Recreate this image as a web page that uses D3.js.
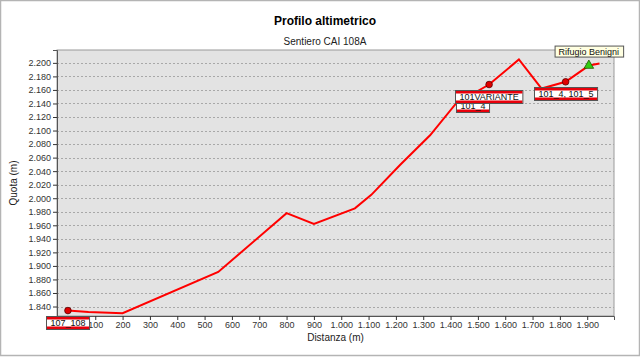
<!DOCTYPE html>
<html><head><meta charset="utf-8">
<script src="https://cdn.jsdelivr.net/npm/d3@7"></script>
<style>body{margin:0;background:#fff}svg{display:block;font-family:"Liberation Sans",Arial,sans-serif}</style>
</head><body>
<svg id="c" width="640" height="357"></svg>
<script>
const title = "Profilo altimetrico";
const subtitle = "Sentiero CAI 108A";
const xLabel = "Distanza (m)";
const yLabel = "Quota (m)";
const distance  = [0, 75, 200, 550, 800, 900, 1050, 1110, 1215, 1325, 1420, 1541, 1650, 1733, 1821, 1906, 1945];
const elevation = [1834, 1832, 1830, 1891, 1978, 1962, 1985, 2005, 2049, 2093, 2140, 2168, 2205, 2162, 2172, 2196, 2199];
const wpNames = ["107_108", "101_4", "101VARIANTE", "101_4, 101_5", "Rifugio Benigni"];
const wpDist  = [0, 1480, 1541, 1821, 1906];
const wpElev  = [1834, 2154, 2168, 2172, 2196];
const wpKind  = ["junction", "junction", "junction", "junction", "hut"];
const xTicks = [0,100,200,300,400,500,600,700,800,900,1000,1100,1200,1300,1400,1500,1600,1700,1800,1900];
const yTicks = [1840,1860,1880,1900,1920,1940,1960,1980,2000,2020,2040,2060,2080,2100,2120,2140,2160,2180,2200];

const svg = d3.select("#c");
const L = 57, R = 614, T = 50, B = 316;
const x = d3.scaleLinear().domain([-40, 1998]).range([L, R]);
const y = d3.scaleLinear().domain([1826, 2219]).range([B, T]);
const fmt = d3.formatLocale({decimal: ",", thousands: ".", grouping: [3], currency: ["", "€"]}).format(",d");

// outer frame
svg.append("rect").attr("x",0.5).attr("y",0.5).attr("width",639).attr("height",355)
  .attr("fill","#fff").attr("stroke","#b4b4b4").attr("stroke-width",1.5);

svg.append("text").attr("x",325).attr("y",25).attr("text-anchor","middle")
  .attr("font-size",12).attr("font-weight","bold").attr("fill","#000").text(title);
svg.append("text").attr("x",325).attr("y",45).attr("text-anchor","middle")
  .attr("font-size",10).attr("fill","#222").text(subtitle);

// plot background
svg.append("rect").attr("x",L).attr("y",T).attr("width",R-L).attr("height",B-T)
  .attr("fill","#e3e3e3").attr("stroke","#9a9a9a").attr("stroke-width",1);

// grid
svg.append("g").selectAll("line").data(yTicks).join("line")
  .attr("x1",L).attr("x2",R).attr("y1",d=>Math.round(y(d))+0.5).attr("y2",d=>Math.round(y(d))+0.5)
  .attr("stroke","#a8a8a8").attr("stroke-dasharray","2,2");

// axes
const yAxis = svg.append("g").attr("transform",`translate(${L},0)`)
  .call(d3.axisLeft(y).tickValues(yTicks).tickFormat(fmt).tickSize(4).tickPadding(2));
const xAxis = svg.append("g").attr("transform",`translate(0,${B})`)
  .call(d3.axisBottom(x).tickValues(xTicks).tickFormat(d=>d===0?"":fmt(d)).tickSize(4).tickPadding(2));
[yAxis,xAxis].forEach(g=>{
  g.select(".domain").attr("stroke","#555");
  g.selectAll(".tick line").attr("stroke","#333");
  g.selectAll("text").attr("font-size",9).attr("fill","#333").attr("font-family","'Liberation Sans',Arial,sans-serif");
});

svg.append("text").attr("x",(L+R)/2).attr("y",341).attr("text-anchor","middle")
  .attr("font-size",10).attr("fill","#222").text(xLabel);
svg.append("text").attr("transform",`translate(17,${(T+B)/2}) rotate(-90)`).attr("text-anchor","middle")
  .attr("font-size",10).attr("fill","#222").text(yLabel);

// profile line
const pts = distance.map((d,i)=>[d, elevation[i]]);
svg.append("path").datum(pts)
  .attr("d", d3.line().x(d=>x(d[0])).y(d=>y(d[1])))
  .attr("fill","none").attr("stroke","#ff0000").attr("stroke-width",2).attr("stroke-linejoin","miter");

// markers
const wps = wpNames.map((n,i)=>({name:n, d:wpDist[i], e:wpElev[i], kind:wpKind[i]}));
wps.forEach(w=>{
  const cx = x(w.d), cy = y(w.e);
  if (w.kind === "hut") {
    svg.append("path").attr("d", d3.symbol(d3.symbolTriangle, 40)())
      .attr("transform",`translate(${cx},${cy})`)
      .attr("fill","#33cc11").attr("stroke","#225500").attr("stroke-width",0.8);
  } else {
    svg.append("circle").attr("cx",cx).attr("cy",cy).attr("r",3.3)
      .attr("fill","#e00000").attr("stroke","#550000").attr("stroke-width",0.8);
  }
});

// labels
wps.forEach(w=>{
  const cx = x(w.d), cy = y(w.e);
  const g = svg.append("g");
  const t = g.append("text").attr("font-size",9).attr("fill","#111").text(w.name);
  const tw = t.node().getComputedTextLength();
  if (w.kind === "hut") {
    const bw = tw + 8, bh = 11;
    const bx = cx - bw/2, by = cy - 9 - bh;
    g.insert("rect","text").attr("x",bx+0.5).attr("y",by+0.5).attr("width",bw).attr("height",bh)
      .attr("fill","#ffffe1").attr("stroke","#555");
    t.attr("x",cx).attr("y",by+bh-2).attr("text-anchor","middle");
  } else {
    const bw = tw + 8, bh = 13;
    const bx = Math.round(cx - bw/2), by = Math.round(cy + 5);
    g.insert("rect","text").attr("x",bx+0.5).attr("y",by+0.5).attr("width",bw).attr("height",bh)
      .attr("fill","#fff").attr("stroke","#555");
    g.insert("rect","text").attr("x",bx+1).attr("y",by+1).attr("width",bw-1).attr("height",2.5).attr("fill","#e8000b");
    g.insert("rect","text").attr("x",bx+1).attr("y",by+bh-2.5).attr("width",bw-1).attr("height",2.5).attr("fill","#e8000b");
    t.attr("x",bx+bw/2+0.5).attr("y",by+bh-3.5).attr("text-anchor","middle");
  }
});
</script>
</body></html>
